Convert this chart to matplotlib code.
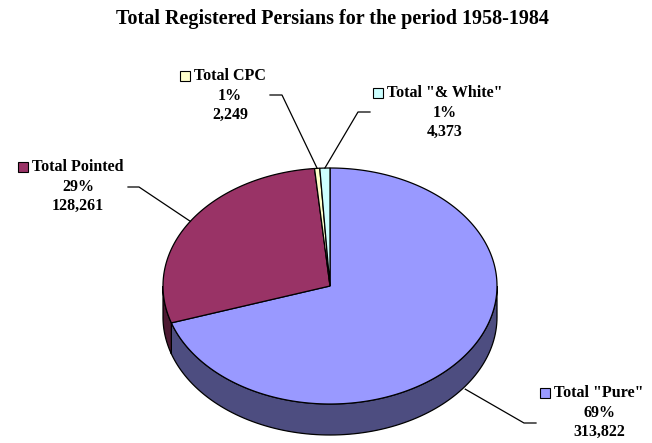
import numpy as np
import matplotlib
matplotlib.use("Agg")
import matplotlib.pyplot as plt

# data
categories = ['Total "Pure"', "Total Pointed", "Total CPC", 'Total "& White"']
counts = [313822, 128261, 2249, 4373]
pct_labels = ["69%", "29%", "1%", "1%"]
top_colors = ["#9999FF", "#993366", "#FFFFCC", "#CCFFFF"]
side_colors = ["#4D4D80", "#4D1A33", "#80806A", "#6A8080"]

title = "Total Registered Persians for the period 1958-1984"

# geometry of the pie in pixel coordinates
cx, cy = 330, 286
rx, ry = 167, 118
depth = 31

# label text centre (x, y of first line) and leader elbow
label_pos = [(599, 393), (78, 167), (230, 76), (445, 93)]
leader_elbows = [((536, 423), (524, 423)), ((128, 187), (139, 187)),
                 ((270, 95), (282, 95)), ((370, 112), (358, 112))]

FONT = "Liberation Serif"
LSIZE = 11.5


def pt(theta, dy=0.0):
    t = np.radians(theta)
    return cx + rx * np.cos(t), cy - ry * np.sin(t) + dy


fig = plt.figure(figsize=(6.52, 4.43), dpi=100)
ax = fig.add_axes([0, 0, 1, 1])
ax.set_xlim(0, 652)
ax.set_ylim(443, 0)
ax.axis("off")

total = float(sum(counts))
spans = [c / total * 360 for c in counts]
starts = []
a = 90.0
for s in spans:
    starts.append(a)
    a -= s

# sides (only the front, lower half is visible)
for st, sp, col in zip(starts, spans, side_colors):
    hi, lo = st, st - sp
    segs = []
    for shift in (0, 360, -360):
        h, l = hi + shift, lo + shift
        a0, a1 = max(l, -180), min(h, 0)
        if a1 > a0:
            segs.append((a0, a1))
    for a0, a1 in segs:
        th = np.linspace(a0, a1, 100)
        xt, yt = pt(th)
        xb, yb = pt(th[::-1], depth)
        ax.fill(np.r_[xt, xb], np.r_[yt, yb], facecolor=col,
                edgecolor="black", linewidth=0.9, zorder=2)

# top faces
for st, sp, col in zip(starts, spans, top_colors):
    th = np.linspace(st, st - sp, max(int(sp * 2), 4))
    xs, ys = pt(th)
    ax.fill(np.r_[cx, xs, cx], np.r_[cy, ys, cy], facecolor=col,
            edgecolor="black", linewidth=0.9, joinstyle="miter", zorder=3)

# labels
fig.canvas.draw()
renderer = fig.canvas.get_renderer()
inv = ax.transData.inverted()
for i, name in enumerate(categories):
    x, y = label_pos[i]
    t = ax.text(x, y, name, ha="center", va="center", fontsize=LSIZE,
                fontweight="bold", family=FONT, zorder=5)
    ax.text(x, y + 20, pct_labels[i], ha="center", va="center", fontsize=LSIZE,
            fontweight="bold", family=FONT, zorder=5)
    ax.text(x, y + 39, f"{counts[i]:,}", ha="center", va="center",
            fontsize=LSIZE, fontweight="bold", family=FONT, zorder=5)
    bb = t.get_window_extent(renderer)
    x0, _ = inv.transform((bb.x0, bb.y0))
    ax.plot(x0 - 9, y, marker="s", markersize=6.5, markerfacecolor=top_colors[i],
            markeredgecolor="black", markeredgewidth=0.8, zorder=5)

    # leader line to the slice
    mid = starts[i] - spans[i] / 2
    ex, ey = pt(mid, depth + 3 if np.sin(np.radians(mid)) < -0.3 else 0)
    (ax0, ay0), (ax1, ay1) = leader_elbows[i]
    ax.plot([ax0, ax1, ex], [ay0, ay1, ey], color="black", linewidth=0.9,
            zorder=4)

ax.text(332, 19, title, ha="center", va="center", fontsize=14.5,
        fontweight="bold", family=FONT)

fig.savefig("out.png", dpi=100)
